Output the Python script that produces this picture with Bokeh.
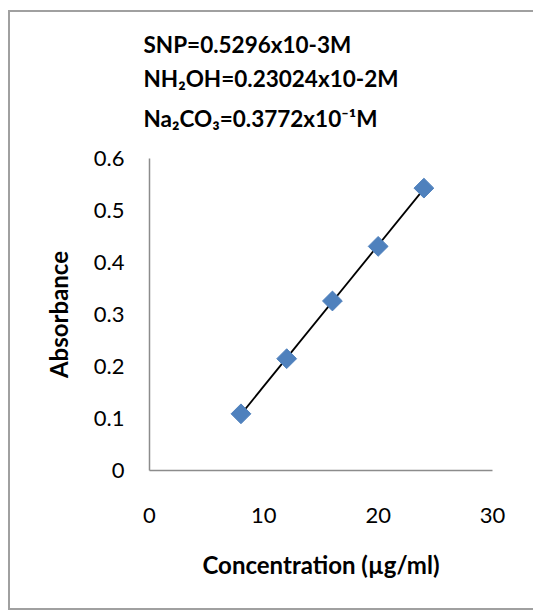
import numpy as np
from bokeh.plotting import figure
from bokeh.models import Range1d, Title, FixedTicker
from bokeh.embed import file_html
from bokeh.resources import INLINE

# data
concentration = [8, 12, 16, 20, 24]
absorbance = [0.109, 0.215, 0.326, 0.431, 0.543]
x_ticks = [0, 10, 20, 30]
y_ticks = [0, 0.1, 0.2, 0.3, 0.4, 0.5, 0.6]
notes = ["SNP=0.5296x10-3M", "NH\u2082OH=0.23024x10-2M", "Na\u2082CO\u2083=0.3772x10\u207b\u00b9M"]

FONT = "Lato"
BORDER = "#a0a0a0"

p = figure(width=523, height=596, output_backend="svg", toolbar_location=None,
           x_range=Range1d(0, 30), y_range=Range1d(0, 0.6),
           min_border_left=139, min_border_right=41, min_border_top=146, min_border_bottom=138)
# chart-area border on the left, top and bottom only (drawn as shadows, no layout change)
p.styles = {"margin-left": "10px", "margin-top": "12px",
            "box-shadow": (f"-2px 0 0 0 {BORDER}, 0 -2px 0 0 {BORDER}, 0 2px 0 0 {BORDER}, "
                           f"-2px -2px 0 0 {BORDER}, -2px 2px 0 0 {BORDER}")}
p.outline_line_color = None
p.xgrid.grid_line_color = None
p.ygrid.grid_line_color = None

for ax in (p.xaxis[0], p.yaxis[0]):
    ax.axis_line_color = "#8c8c8c"
    ax.axis_line_width = 1.5
    ax.major_tick_line_color = None
    ax.minor_tick_line_color = None
    ax.major_tick_out = 0
    ax.major_tick_in = 0
    ax.major_label_text_font = FONT
    ax.major_label_text_font_size = "22px"
    ax.major_label_text_color = "#000000"
    ax.axis_label_text_font = FONT
    ax.axis_label_text_font_style = "bold"
    ax.axis_label_text_font_size = "24px"
    ax.axis_label_text_color = "#000000"

p.xaxis.ticker = FixedTicker(ticks=x_ticks)
p.yaxis.ticker = FixedTicker(ticks=y_ticks)
p.xaxis.axis_label = "Concentration (\u00b5g/ml)"
p.yaxis.axis_label = "Absorbance"
p.xaxis.major_label_standoff = 37
p.xaxis.axis_label_standoff = 24
p.yaxis.major_label_standoff = 25
p.yaxis.axis_label_standoff = 18

# linear trendline
m, b = np.polyfit(concentration, absorbance, 1)
tx = [min(concentration), max(concentration)]
ty = [m * v + b for v in tx]
p.line(tx, ty, line_color="black", line_width=1.8)

p.scatter(concentration, absorbance, marker="square", size=14, angle=np.pi / 4,
          fill_color="#4f81bd", line_color="#4f81bd")

# small blank spacer between the frame and the notes
p.add_layout(Title(text="\u00a0", text_font=FONT, text_font_size="10px", standoff=4), "above")
# notes stacked above the frame (first added is closest to the frame)
for i, t in enumerate(reversed(notes)):
    p.add_layout(Title(text=t, align="left", offset=-6, text_font=FONT, text_font_style="bold",
                       text_font_size="22.5px", text_color="#000000",
                       standoff=17 if i == 0 else 5), "above")

open("out.html", "w").write(file_html(p, INLINE))
